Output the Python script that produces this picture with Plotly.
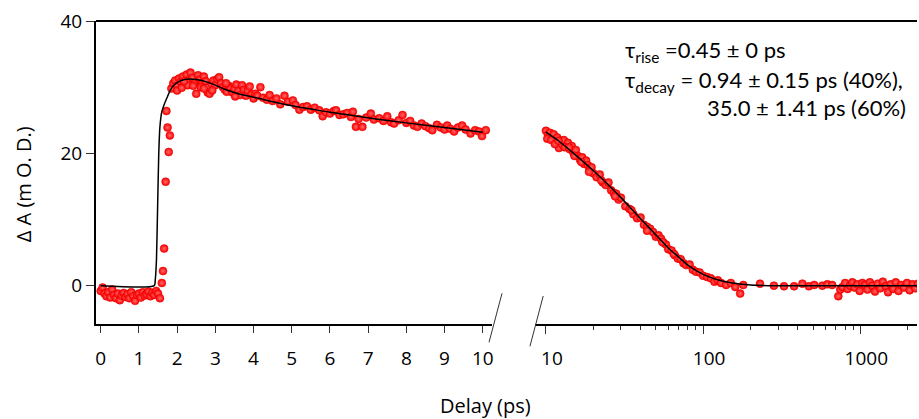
import plotly.graph_objects as go

# ---- data ----
# left panel, linear delay 0-10 ps
left_x = [0.00,0.05,0.10,0.15,0.20,0.25,0.30,0.35,0.40,0.45,0.50,0.55,0.60,0.65,0.70,0.75,0.80,0.85,0.90,0.95,
          1.00,1.05,1.10,1.15,1.20,1.25,1.30,1.35,1.40,1.45,1.50,1.55,
          1.60,1.63,1.66,1.70,1.72,1.75,1.78,1.81,
          1.85,1.90,1.95,2.00,2.05,2.10,2.15,2.20,2.25,2.30,2.35,2.40,2.45,2.50,2.55,2.60,2.65,2.70,2.75,2.80,
          2.85,2.90,2.95,3.00,3.05,3.10,3.15,3.20,3.25,3.30,3.35,3.40,3.45,3.50,3.55,3.60,3.65,3.70,3.75,3.80,
          3.85,3.90,3.95,4.00,4.05,4.10,4.18,4.25,4.35,4.42,4.50,4.60,4.70,4.81,4.90,5.03,5.10,5.20,5.30,5.40,
          5.50,5.60,5.72,5.81,5.90,6.00,6.10,6.16,6.25,6.35,6.45,6.55,6.60,6.68,6.75,6.85,6.95,7.07,7.15,7.29,
          7.40,7.50,7.60,7.68,7.80,7.90,8.00,8.10,8.20,8.29,8.40,8.50,8.60,8.68,8.80,8.90,9.00,9.07,9.15,9.25,
          9.35,9.46,9.55,9.68,9.80,9.90,9.98,10.08,
          2.00,2.12,2.28,2.62,2.92,3.28,3.52,2.18,2.42,2.70]
left_y = [-0.8,-0.3,-1.2,-1.6,-1.0,-1.8,-0.6,-1.4,-1.9,-1.2,-2.2,-1.5,-1.1,-1.7,-1.3,-1.9,-1.0,-1.6,-2.3,-1.4,
          -1.2,-1.8,-1.0,-1.5,-1.3,-0.9,-1.6,-1.1,-1.4,-0.8,-1.2,-1.9,
          0.4,2.2,5.6,15.7,26.4,23.9,20.2,22.7,
          29.8,30.6,31.0,30.2,31.3,30.8,31.6,30.4,31.9,31.0,32.2,31.4,30.6,29.0,31.8,31.2,30.5,31.6,30.9,29.2,
          29.0,30.4,31.0,30.3,31.2,31.5,30.6,30.0,29.6,29.3,30.2,29.8,29.2,29.7,30.4,29.4,28.8,30.3,29.6,28.7,
          29.5,30.1,28.9,28.3,29.0,28.7,30.0,28.4,28.1,28.8,27.9,28.3,27.4,28.7,27.8,28.0,27.3,26.6,27.0,27.1,
          26.6,26.9,26.5,25.6,26.2,26.0,26.4,26.5,25.8,25.9,26.1,25.5,26.3,24.0,25.2,24.0,25.4,26.0,25.1,25.3,
          24.9,25.6,24.7,24.5,25.0,25.8,24.6,24.9,24.2,24.0,24.5,24.1,23.8,23.5,24.3,23.9,23.6,24.2,23.7,23.3,
          23.9,24.2,23.6,23.0,23.5,23.3,22.6,23.5,
          29.5,29.9,30.3,30.0,29.5,30.6,28.6,30.9,30.2,29.8]
left_fit_x = [0.0,1.40,1.43,1.46,1.49,1.52,1.55,1.60,1.67,1.75,1.81,1.90,2.07,2.20,2.33,2.50,2.77,3.00,3.20,
              3.60,4.07,4.50,5.00,5.50,6.00,6.50,7.20,8.00,9.00,10.00]
left_fit_y = [0.0,0.0,1.0,4.0,12.0,20.0,24.0,26.3,27.5,28.6,29.4,30.2,30.9,31.15,31.25,31.15,30.8,30.3,29.8,
              29.0,28.4,27.8,27.2,26.7,26.2,25.8,25.2,24.6,23.9,23.2]

# right panel, log delay 10-2300 ps
right_x = [10.0,10.3,10.6,10.9,11.2,11.5,11.8,12.1,12.4,12.7,13.0,13.4,13.8,14.2,14.6,15.0,15.5,16.0,16.5,17.0,
           17.5,18.0,18.5,19.0,19.5,20.0,21,22,23,24,25,26,27,28,29,30,32,34,36,38,40,42,44,46,48,50,52,54,56,58,
           60,63,66,69,72,75,78,82,86,90,95,100,106,112,118,124,130,140,150,160,172,180,230,282,327,379,428,471,
           509,573,617,662,724,745,770,800,830,860,890,920,955,990,1030,1070,1110,1150,1190,1240,1290,1340,1390,
           1450,1500,1560,1620,1680,1750,1820,1900,1980,2060,2150,2240,2330,
           10.2,10.8,11.4,12.0,13.2,14.0,15.2,16.8,18.8,22.5,27.5,35,44,55,65]
right_y = [23.4,22.8,23.1,22.3,22.9,21.6,22.4,20.8,21.9,21.3,22.0,21.0,21.6,20.6,21.1,20.0,20.5,19.6,19.0,19.4,
           18.4,18.9,18.2,17.6,17.9,17.0,16.4,16.8,15.6,15.2,15.6,14.4,14.0,13.9,13.0,13.3,12.0,11.6,10.8,10.2,10.3,
           9.2,8.9,8.6,8.1,7.4,7.6,7.1,6.5,6.2,5.5,5.3,4.6,4.1,4.0,3.4,3.1,3.2,2.4,2.1,2.0,1.5,1.3,1.1,0.6,0.8,0.4,
           0.1,0.4,-0.2,-1.2,0.1,0.3,0.0,-0.1,-0.1,0.3,-0.1,0.1,0.0,0.2,0.1,-1.6,-0.6,-0.2,0.4,-0.5,0.0,0.5,-0.3,
           0.2,-0.8,0.4,0.1,-0.6,0.5,0.0,-0.9,0.3,-0.4,0.6,-0.1,-1.0,0.2,-0.5,0.5,-0.8,0.1,-0.3,0.4,-0.7,0.2,-0.4,0.3,
           22.2,22.0,21.4,21.9,20.9,20.9,19.6,18.7,17.2,15.9,13.5,11.4,8.3,6.6,4.8]
right_fit_x = [10,12,15,20,25,30,40,50,60,70,80,100,125,150,200,300,1000,2400]
right_fit_y = [23.2,21.9,20.0,17.4,15.2,13.3,10.1,7.7,5.7,4.3,3.1,1.7,0.85,0.42,0.1,0.0,0.0,0.0]

y_ticks = [0, 20, 40]
left_ticks = list(range(0, 11))
right_ticks = [10, 100, 1000]
right_minor = [20,30,40,50,60,70,80,90,200,300,400,500,600,700,800,900,2000]

FONT = "Open Sans"
marker = dict(color="#ff0000", size=8, line=dict(color="#e00000", width=0.5),
              gradient=dict(type="radial", color="#ff6a6a"))

fig = go.Figure()
fig.add_trace(go.Scatter(x=left_x, y=left_y, mode="markers", marker=marker, xaxis="x", yaxis="y",
                         showlegend=False))
fig.add_trace(go.Scatter(x=left_fit_x, y=left_fit_y, mode="lines",
                         line=dict(color="black", width=1.5, shape="spline", smoothing=0.6),
                         xaxis="x", yaxis="y", showlegend=False))
fig.add_trace(go.Scatter(x=right_x, y=right_y, mode="markers", marker=marker, xaxis="x2", yaxis="y",
                         showlegend=False))
fig.add_trace(go.Scatter(x=right_fit_x, y=right_fit_y, mode="lines",
                         line=dict(color="black", width=1.5, shape="spline", smoothing=0.6),
                         xaxis="x2", yaxis="y", showlegend=False))

axis_common = dict(showgrid=False, zeroline=False, showline=True, linecolor="black", linewidth=2,
                   ticks="outside", tickcolor="#333", tickwidth=1,
                   tickfont=dict(family=FONT, size=19, color="black"))

fig.update_layout(
    width=919, height=419,
    margin=dict(l=96, r=0, t=21, b=95),
    paper_bgcolor="white", plot_bgcolor="white",
    xaxis=dict(domain=[0, 0.4824], range=[-0.123, 10.243], tickvals=left_ticks, ticklen=7,
               ticklabelstandoff=9, anchor="y", **axis_common),
    xaxis2=dict(domain=[0.5343, 1], type="log", range=[0.9283, 3.3604], tickvals=right_ticks,
                ticktext=[str(v) for v in right_ticks], ticklen=8, ticklabelstandoff=8,
                ticklabelshift=6, anchor="y",
                minor=dict(tickvals=right_minor, ticks="outside", ticklen=4, tickcolor="#333", tickwidth=1),
                **axis_common),
    yaxis=dict(range=[-5.8, 40], tickvals=y_ticks, ticklen=8, anchor="x", **axis_common),
)

# top frame line across both panels
fig.add_shape(type="line", xref="paper", yref="paper", x0=0, x1=1, y0=1, y1=1,
              line=dict(color="black", width=2))
# axis break marks
def px(xp): return (xp - 96) / 823
def py(yp): return (324 - yp) / 303
fig.add_shape(type="line", xref="paper", yref="paper", x0=px(490), y0=py(342.3), x1=px(503), y1=py(293.3),
              line=dict(color="#333", width=1))
fig.add_shape(type="line", xref="paper", yref="paper", x0=px(531), y0=py(346.3), x1=px(544.3), y1=py(296),
              line=dict(color="#333", width=1))

fig.add_annotation(x=px(486), y=py(405), xref="paper", yref="paper", xanchor="center", yanchor="middle",
                   text="Delay (ps)", showarrow=False, font=dict(family=FONT, size=20, color="black"))
fig.add_annotation(x=px(23), y=py(184), xref="paper", yref="paper", xanchor="center", yanchor="middle",
                   text="Δ A (m O. D.)", textangle=-90,
                   showarrow=False, font=dict(family=FONT, size=20, color="black"))

AFONT = dict(family="Lato", size=22, color="black")
fig.add_annotation(x=px(624), y=py(51), xref="paper", yref="paper", xanchor="left", yanchor="middle",
                   text="τ<sub>rise</sub> =0.45 ± 0 ps", showarrow=False, font=AFONT)
fig.add_annotation(x=px(624), y=py(81), xref="paper", yref="paper", xanchor="left", yanchor="middle",
                   text="τ<sub>decay</sub> = 0.94 ± 0.15 ps (40%),", showarrow=False, font=AFONT)
fig.add_annotation(x=px(706), y=py(107), xref="paper", yref="paper", xanchor="left", yanchor="middle",
                   text="35.0 ± 1.41 ps (60%)", showarrow=False, font=AFONT)

fig.write_html("out.html", config={"displayModeBar": False},
               post_script="document.body.style.margin='0';")
